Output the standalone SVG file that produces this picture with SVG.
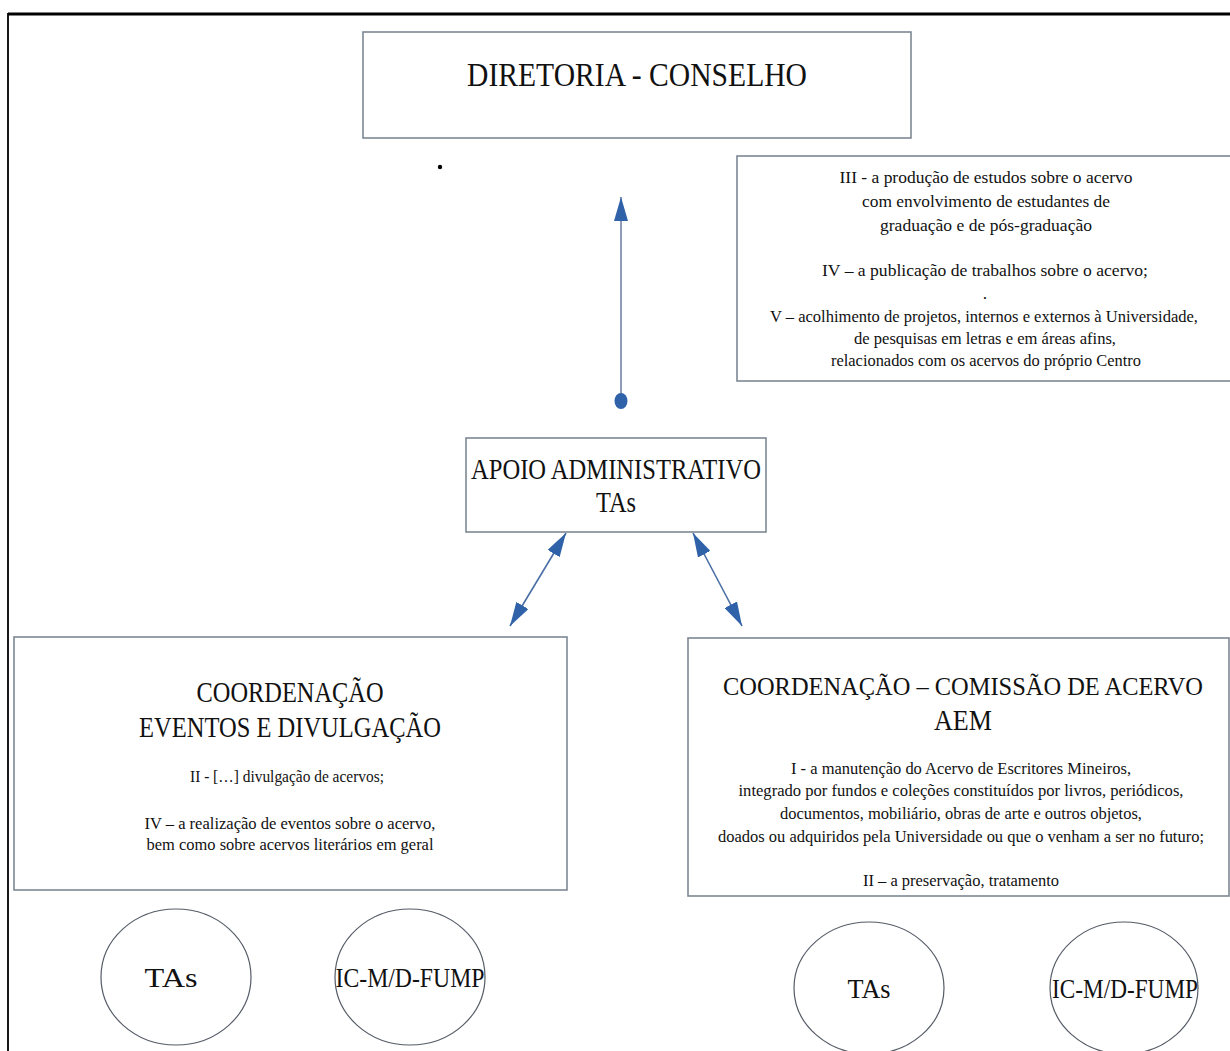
<svg xmlns="http://www.w3.org/2000/svg" width="1230" height="1051" viewBox="0 0 1230 1051">
<style>
.box{fill:#fff;stroke:#7d8894;stroke-width:1.6}
.circ{fill:#fff;stroke:#555c66;stroke-width:1.2}
text{font-family:"Liberation Serif","Times New Roman",serif;fill:#111;text-anchor:middle}
.t30{font-size:34px}
.t26{font-size:29px}
.t24{font-size:28px}
.t16{font-size:17.5px}
.con{stroke:#8e9cb8;stroke-width:2;fill:none}
.conb{stroke:#4a6fa5;stroke-width:1.6;fill:none}
</style>
<defs>
<marker id="ahb" viewBox="0 0 10 10" refX="10" refY="5" markerWidth="24" markerHeight="14" markerUnits="userSpaceOnUse" orient="auto-start-reverse" preserveAspectRatio="none">
<path d="M0,0 L10,5 L0,10 z" fill="#2f62a8"/>
</marker>
</defs>
<rect width="1230" height="1051" fill="#fff"/>
<g id="frame">
<line x1="8" y1="14" x2="1230" y2="14" stroke="#000" stroke-width="3"/>
<line x1="8" y1="13" x2="8" y2="1051" stroke="#000" stroke-width="1.8"/>
<circle cx="440" cy="167" r="2.2" fill="#000"/>
</g>
<g id="connectors">
<line class="con" x1="621" y1="402" x2="621" y2="197" marker-end="url(#ahb)"/>
<ellipse cx="621" cy="401" rx="6.5" ry="8" fill="#2f62a8"/>
<line class="conb" x1="566" y1="533" x2="510" y2="626" marker-start="url(#ahb)" marker-end="url(#ahb)"/>
<line class="conb" x1="693" y1="533" x2="742" y2="626" marker-start="url(#ahb)" marker-end="url(#ahb)"/>
</g>
<g id="diretoria">
<rect class="box" x="363" y="32" width="548" height="106"/>
<text class="t30" x="637" y="86" textLength="340" lengthAdjust="spacingAndGlyphs">DIRETORIA - CONSELHO</text>
</g>
<g id="info">
<rect class="box" x="737" y="156" width="500" height="225"/>
<text class="t16" x="986" y="183" textLength="293" lengthAdjust="spacingAndGlyphs">III - a produção de estudos sobre o acervo</text>
<text class="t16" x="986" y="207" textLength="248" lengthAdjust="spacingAndGlyphs">com envolvimento de estudantes de</text>
<text class="t16" x="986" y="231" textLength="212" lengthAdjust="spacingAndGlyphs">graduação e de pós-graduação</text>
<text class="t16" x="985" y="276" textLength="326" lengthAdjust="spacingAndGlyphs">IV – a publicação de trabalhos sobre o acervo;</text>
<text class="t16" x="985" y="299">.</text>
<text class="t16" x="984" y="322" textLength="428" lengthAdjust="spacingAndGlyphs">V – acolhimento de projetos, internos e externos à Universidade,</text>
<text class="t16" x="985" y="344" textLength="262" lengthAdjust="spacingAndGlyphs">de pesquisas em letras e em áreas afins,</text>
<text class="t16" x="986" y="366" textLength="310" lengthAdjust="spacingAndGlyphs">relacionados com os acervos do próprio Centro</text>
</g>
<g id="apoio">
<rect class="box" x="466" y="438" width="300" height="94"/>
<text class="t26" x="616" y="479" textLength="290" lengthAdjust="spacingAndGlyphs">APOIO ADMINISTRATIVO</text>
<text class="t26" x="616" y="512" textLength="40" lengthAdjust="spacingAndGlyphs">TAs</text>
</g>
<g id="coord-eventos">
<rect class="box" x="14" y="637" width="553" height="253"/>
<text class="t26" x="290" y="702" textLength="187" lengthAdjust="spacingAndGlyphs">COORDENAÇÃO</text>
<text class="t26" x="290" y="737" textLength="302" lengthAdjust="spacingAndGlyphs">EVENTOS E DIVULGAÇÃO</text>
<text class="t16" x="287" y="782" textLength="194" lengthAdjust="spacingAndGlyphs">II - […] divulgação de acervos;</text>
<text class="t16" x="290" y="829" textLength="291" lengthAdjust="spacingAndGlyphs">IV – a realização de eventos sobre o acervo,</text>
<text class="t16" x="290" y="850" textLength="287" lengthAdjust="spacingAndGlyphs">bem como sobre acervos literários em geral</text>
</g>
<g id="coord-acervo">
<rect class="box" x="688" y="638" width="541" height="258"/>
<text x="963" y="695" font-size="25" textLength="480" lengthAdjust="spacingAndGlyphs">COORDENAÇÃO – COMISSÃO DE ACERVO</text>
<text class="t26" x="963" y="730" textLength="58" lengthAdjust="spacingAndGlyphs">AEM</text>
<text class="t16" x="961" y="774" textLength="340" lengthAdjust="spacingAndGlyphs">I - a manutenção do Acervo de Escritores Mineiros,</text>
<text class="t16" x="961" y="796" textLength="445" lengthAdjust="spacingAndGlyphs">integrado por fundos e coleções constituídos por livros, periódicos,</text>
<text class="t16" x="961" y="819" textLength="362" lengthAdjust="spacingAndGlyphs">documentos, mobiliário, obras de arte e outros objetos,</text>
<text x="961" y="842" font-size="16" textLength="486" lengthAdjust="spacingAndGlyphs">doados ou adquiridos pela Universidade ou que o venham a ser no futuro;</text>
<text class="t16" x="961" y="886" textLength="196" lengthAdjust="spacingAndGlyphs">II – a preservação, tratamento</text>
</g>
<g id="tas-left">
<ellipse class="circ" cx="176" cy="977" rx="75" ry="68"/>
<text class="t24" x="171" y="987" textLength="53" lengthAdjust="spacingAndGlyphs">TAs</text>
</g>
<g id="ic-left">
<ellipse class="circ" cx="410" cy="977" rx="75" ry="68"/>
<text class="t24" x="410" y="987" textLength="149" lengthAdjust="spacingAndGlyphs">IC-M/D-FUMP</text>
</g>
<g id="tas-right">
<ellipse class="circ" cx="869" cy="988" rx="75" ry="66"/>
<text class="t24" x="869" y="998" textLength="43" lengthAdjust="spacingAndGlyphs">TAs</text>
</g>
<g id="ic-right">
<ellipse class="circ" cx="1124" cy="988" rx="74" ry="66"/>
<text class="t24" x="1125" y="998" textLength="146" lengthAdjust="spacingAndGlyphs">IC-M/D-FUMP</text>
</g>
</svg>
